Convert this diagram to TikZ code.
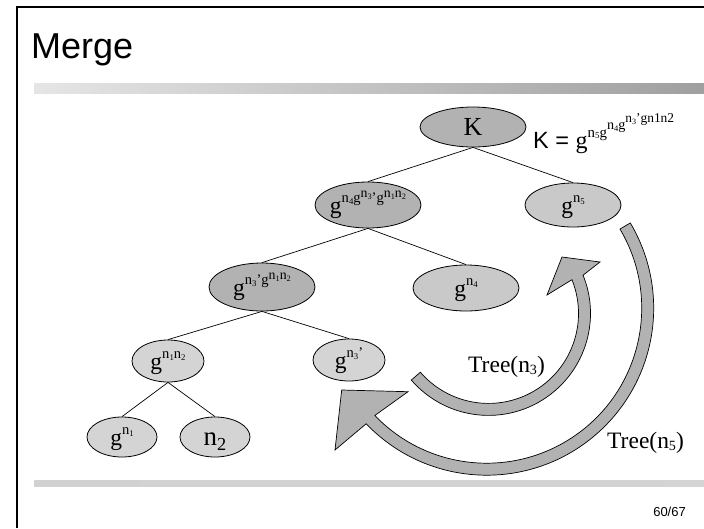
\documentclass[tikz,border=0pt]{standalone}
\usepackage{fontspec}
\setmainfont{Liberation Serif}
\setsansfont{Liberation Sans}
\usepackage{graphicx}
\usetikzlibrary{shapes.geometric,calc}

\definecolor{nodedark}{gray}{0.70}
\definecolor{nodelight}{gray}{0.79}
\definecolor{nodepale}{gray}{0.83}
\definecolor{arrowgray}{gray}{0.70}

% relative font scaling and exponent helpers
\makeatletter
\newcommand\fsz[2]{{\@tempdima=#1\dimexpr\f@size pt\relax
  \fontsize{\strip@pt\@tempdima}{\strip@pt\@tempdima}\selectfont#2}}
\makeatother
\newcommand\xup[1]{\raisebox{0.45em}{\fsz{0.62}{#1}}}
\newcommand\xdn[1]{\raisebox{-0.12em}{\fsz{0.6}{#1}}}
\newcommand\xhi[1]{\raisebox{0.32em}{\fsz{0.95}{#1}}}
\newcommand\xtop[1]{\raisebox{0.5em}{\fsz{0.95}{#1}}}
\newcommand\ctr[1]{\makebox[0pt]{#1}}

\tikzset{
  tnode/.style={ellipse, draw=black, line width=0.8pt, inner sep=0pt,
    text height=16pt, text depth=0pt, font=\fontsize{23.5}{23.5}\selectfont},
  darknode/.style={tnode, fill=nodedark},
  lightnode/.style={tnode, fill=nodelight},
  palenode/.style={tnode, fill=nodepale},
  treeline/.style={draw=black, line width=0.7pt},
  bigarrow/.style={fill=arrowgray, draw=black, line width=0.7pt, line join=miter},
  serifbig/.style={font=\fontsize{23.5}{23.5}\selectfont, inner sep=0pt},
}

\begin{document}
\begin{tikzpicture}[x=1pt, y=-1pt]
\useasboundingbox (0,0) rectangle (704,528);

% slide frame and rules
\draw[line width=2pt] (17.3,528) -- (17.3,7.3) -- (704,7.3);
\shade[left color=gray!20, middle color=gray!30, right color=gray!75] (34,83) rectangle (704,93);
\shade[left color=gray!36, middle color=gray!22, right color=gray!34] (34,480) rectangle (704,486);

% title and page number
\node[anchor=base west, inner sep=0pt, font=\sffamily\fontsize{36}{36}\selectfont] (title) at (31,58) {Merge};
\node[anchor=base east, inner sep=0pt, font=\sffamily\fontsize{13}{13}\selectfont] (pagenum) at (686,516) {60/67};

% key tree
\node[darknode, minimum width=106pt, minimum height=40pt, text height=17pt, font=\fontsize{26}{26}\selectfont] (K) at (473,127) {\ctr{K}};
\node[darknode, minimum width=106pt, minimum height=46pt] (a4) at (368,205)
  {\ctr{g\xup{n\xdn{4}g\xhi{n\xdn{3}}'g\xhi{n\xdn{1}n\xdn{2}}}}};
\node[lightnode, minimum width=96pt, minimum height=44pt] (n5) at (573,205) {\ctr{g\xup{n\xdn{5}}}};
\node[darknode, minimum width=106pt, minimum height=48pt] (a3) at (262,287)
  {\ctr{g\xup{n\xdn{3}'g\xhi{n\xdn{1}n\xdn{2}}}}};
\node[lightnode, minimum width=106pt, minimum height=46pt] (n4) at (466,288) {\ctr{g\xup{n\xdn{4}}}};
\node[palenode, minimum width=72pt, minimum height=42pt] (a12) at (168,361) {\ctr{g\xup{n\xdn{1}n\xdn{2}}}};
\node[palenode, minimum width=72pt, minimum height=42pt] (n3p) at (349,360) {\ctr{g\xup{n\xdn{3}'}}};
\node[palenode, minimum width=70pt, minimum height=40pt] (g1) at (122,437) {\ctr{g\xup{n\xdn{1}}}};
\node[palenode, minimum width=70pt, minimum height=40pt, font=\fontsize{27}{27}\selectfont] (n2) at (215,437)
  {\ctr{n\raisebox{-0.2em}{\fsz{0.68}{2}}}};

\draw[treeline] (K.south) -- (a4.north);
\draw[treeline] (K.south) -- (n5.north);
\draw[treeline] (a4.south) -- (a3.north);
\draw[treeline] (a4.south) -- (n4.north);
\draw[treeline] (a3.south) -- (a12.north);
\draw[treeline] (a3.south) -- (n3p.north);
\draw[treeline] (a12.south) -- (g1.north);
\draw[treeline] (a12.south) -- (n2.north);

% formula for the key
\node[anchor=base west, inner sep=0pt] (klabel) at (533,148)
  {{\sffamily\fontsize{23.5}{23.5}\selectfont K = }{\fontsize{24}{24}\selectfont g\xup{n\xdn{5}g\xtop{n\xdn{4}g\xtop{n\xdn{3}'gn1n2}}}}};

% curved block arrows
\coordinate (c1) at (488.5,313.4);
\coordinate (c2) at (486.7,308.2);
\filldraw[bigarrow] ($(c1)+(139.2:102)$) arc[start angle=139.2, end angle=-22, radius=102]
  -- (600,262) -- (562,257) -- (547,295)
  -- ($(c1)+(-22:90)$) arc[start angle=-22, end angle=139.2, radius=90] -- cycle;
\filldraw[bigarrow] ($(c2)+(-30.7:155)$) arc[start angle=-30.7, end angle=136.2, radius=155]
  -- (408,391.7) -- (341.7,390) -- (335,450)
  -- ($(c2)+(136.2:167)$) arc[start angle=136.2, end angle=-30.7, radius=167] -- cycle;

\node[serifbig, anchor=base west] (tree3) at (468,372) {Tree(n\xdn{3})};
\node[serifbig, anchor=base west] (tree5) at (607,448) {Tree(n\xdn{5})};
\end{tikzpicture}
\end{document}
